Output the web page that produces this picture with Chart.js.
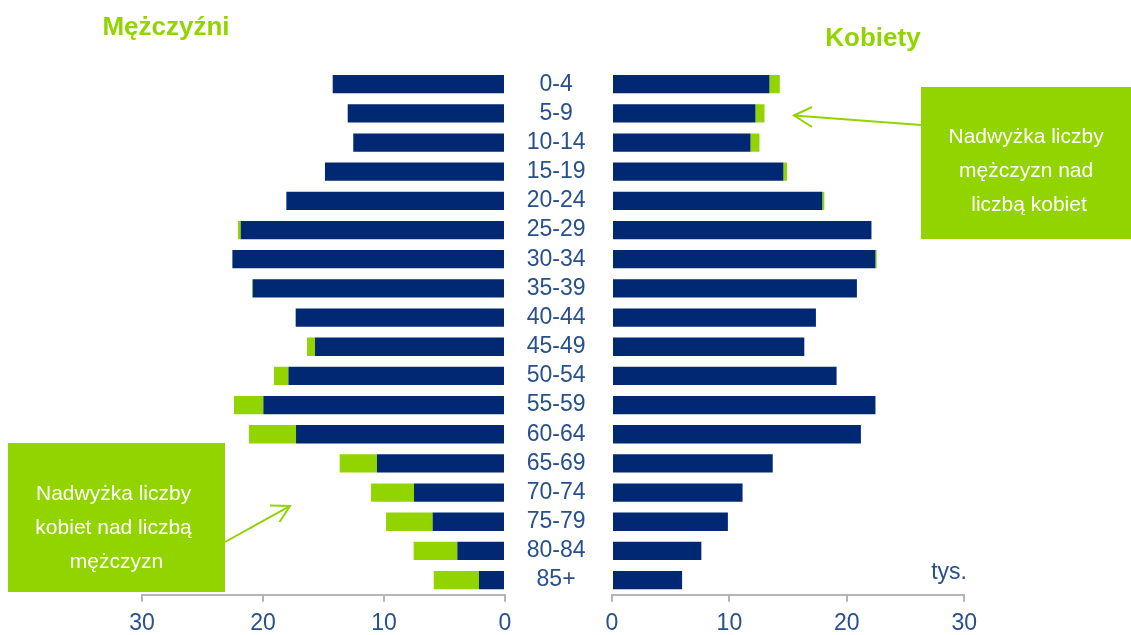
<!DOCTYPE html>
<html lang="pl">
<head>
<meta charset="utf-8">
<title>Mężczyźni / Kobiety</title>
<script src="https://cdn.jsdelivr.net/npm/chart.js@4.4.1/dist/chart.umd.min.js"></script>
<style>
  html, body { margin: 0; padding: 0; background: #fff; overflow: hidden; }
  #wrap { position: relative; width: 1131px; height: 635px; overflow: hidden; }
  #menChart { position: absolute; left: 100px; top: 0; }
  #womenChart { position: absolute; left: 505px; top: 0; }
  #notes { position: absolute; left: 0; top: 0; pointer-events: none; }
</style>
</head>
<body>
<div id="wrap">
  <canvas id="menChart" width="425" height="645"></canvas>
  <canvas id="womenChart" width="481" height="645"></canvas>
  <svg id="notes" width="1131" height="635" font-family="Liberation Sans, Arial, sans-serif">
    <text x="166" y="35" text-anchor="middle" font-size="26" font-weight="bold" fill="#92d400">Mężczyźni</text>
    <text x="873" y="45.5" text-anchor="middle" font-size="26" font-weight="bold" fill="#92d400">Kobiety</text>
    <text x="967" y="578.5" text-anchor="end" font-size="23" fill="#27508c">tys.</text>

    <rect x="8" y="443" width="217" height="149" fill="#92d400"/>
    <text text-anchor="middle" font-size="21" fill="#fff">
      <tspan x="116.5" y="500">Nadwyżka liczby</tspan>
      <tspan x="116.5" y="534">kobiet nad liczbą</tspan>
      <tspan x="116.5" y="568">mężczyzn</tspan>
    </text>
    <g stroke="#92d400" stroke-width="2" fill="none">
      <line x1="225" y1="542" x2="290" y2="506"/>
      <polyline points="270,505.5 290,506 279.5,522"/>
    </g>

    <rect x="921" y="87" width="210" height="152" fill="#92d400"/>
    <text text-anchor="middle" font-size="21" fill="#fff">
      <tspan x="1029" y="143">Nadwyżka liczby</tspan>
      <tspan x="1029" y="177">mężczyzn nad</tspan>
      <tspan x="1029" y="211">liczbą kobiet</tspan>
    </text>
    <g stroke="#92d400" stroke-width="2" fill="none">
      <line x1="921" y1="125" x2="794" y2="115.5"/>
      <polyline points="812,107 794,115.5 812,127"/>
    </g>
  </svg>
</div>
<script>
// age groups, top to bottom
const ageGroups = ['0-4', '5-9', '10-14', '15-19', '20-24', '25-29', '30-34', '35-39', '40-44',
  '45-49', '50-54', '55-59', '60-64', '65-69', '70-74', '75-79', '80-84', '85+'];

// thousands of people
const menBase = [14.24, 13.0, 12.54, 14.88, 18.07, 21.84, 22.53, 20.85, 17.3,
  15.7, 17.9, 19.97, 17.27, 10.58, 7.52, 5.98, 3.94, 2.15];
// surplus of women over men (green, left side)
const womenSurplus = [0, 0, 0, 0, 0, 0.23, 0, 0.05, 0,
  0.66, 1.19, 2.43, 3.89, 3.08, 3.55, 3.85, 3.61, 3.74];

const womenBase = [13.41, 12.22, 11.8, 14.6, 17.91, 22.1, 22.44, 20.86, 17.37,
  16.38, 19.13, 22.44, 21.2, 13.69, 11.12, 9.87, 7.61, 5.97];
// surplus of men over women (green, right side)
const menSurplus = [0.88, 0.77, 0.76, 0.31, 0.17, 0, 0.1, 0, 0,
  0, 0, 0, 0, 0, 0, 0, 0, 0];

const axisTicks = [0, 10, 20, 30];

const NAVY = '#002873';
const GREEN = '#92d400';
const GREY = '#b5b5b5';
const TEXT = '#27508c';

Chart.defaults.font.family = 'Liberation Sans, Arial, sans-serif';
Chart.defaults.color = TEXT;

function xAxis(reverse) {
  return {
    type: 'linear',
    stacked: true,
    reverse: reverse,
    min: axisTicks[0],
    max: axisTicks[axisTicks.length - 1],
    afterBuildTicks: axis => { axis.ticks = axisTicks.map(v => ({ value: v })); },
    grid: { drawOnChartArea: false, drawTicks: true, tickLength: 7, color: GREY, lineWidth: 2 },
    border: { display: true, color: GREY, width: 2 },
    ticks: { color: TEXT, padding: 9, font: { size: 23, lineHeight: 1.1 } }
  };
}

function barSet(data, color) {
  return {
    data: data,
    backgroundColor: color,
    borderWidth: 0,
    categoryPercentage: 1,
    barPercentage: 0.627
  };
}

const common = {
  responsive: false,
  animation: false,
  plugins: { legend: { display: false }, tooltip: { enabled: false } },
  indexAxis: 'y'
};

new Chart(document.getElementById('menChart'), {
  type: 'bar',
  data: {
    labels: ageGroups,
    datasets: [barSet(menBase, NAVY), barSet(womenSurplus, GREEN)]
  },
  options: {
    ...common,
    layout: { padding: { top: 69.6, right: 20, bottom: 0, left: 42 } },
    scales: {
      x: xAxis(true),
      y: { stacked: true, display: false }
    }
  }
});

new Chart(document.getElementById('womenChart'), {
  type: 'bar',
  data: {
    labels: ageGroups,
    datasets: [barSet(womenBase, NAVY), barSet(menSurplus, GREEN)]
  },
  options: {
    ...common,
    layout: { padding: { top: 69.6, right: 20, bottom: 0, left: 0 } },
    scales: {
      x: xAxis(false),
      y: {
        stacked: true,
        grid: { display: false, drawTicks: false },
        border: { display: false },
        ticks: { autoSkip: false, crossAlign: 'center', padding: 26.5, color: TEXT, font: { size: 23 } },
        afterFit: axis => { axis.width = 107; }
      }
    }
  }
});
</script>
</body>
</html>
